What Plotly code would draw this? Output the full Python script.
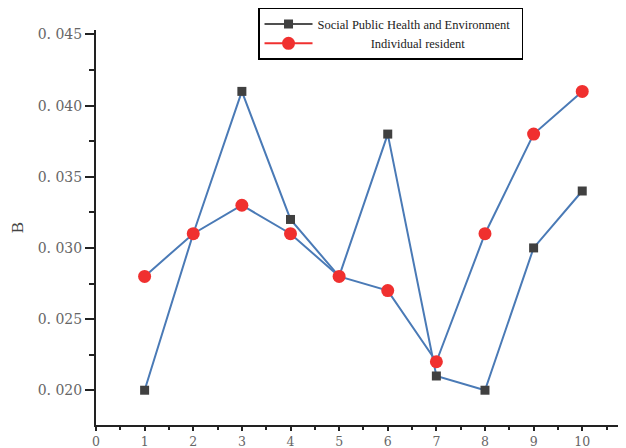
import plotly.graph_objects as go

x_vals = [1, 2, 3, 4, 5, 6, 7, 8, 9, 10]
social = [0.020, 0.031, 0.041, 0.032, 0.028, 0.038, 0.021, 0.020, 0.030, 0.034]
individual = [0.028, 0.031, 0.033, 0.031, 0.028, 0.027, 0.022, 0.031, 0.038, 0.041]
y_tickvals = [0.020, 0.025, 0.030, 0.035, 0.040, 0.045]
y_ticktext = ["0. 020", "0. 025", "0. 030", "0. 035", "0. 040", "0. 045"]
x_tickvals = [0, 1, 2, 3, 4, 5, 6, 7, 8, 9, 10]
series_names = ["Social Public Health and Environment" + "\u00a0" * 2,
                "\u00a0" * 17 + "Individual resident"]

line_blue = "#4a7ab6"
tick_font = dict(family="DejaVu Serif", size=14, color="#666666")

fig = go.Figure()
fig.add_trace(go.Scatter(x=x_vals, y=social, mode="lines+markers", showlegend=False,
                         line=dict(color=line_blue, width=2),
                         marker=dict(symbol="square", size=9, color="#404040")))
fig.add_trace(go.Scatter(x=x_vals, y=individual, mode="lines+markers", showlegend=False,
                         line=dict(color=line_blue, width=2),
                         marker=dict(symbol="circle", size=13, color="#f0302f")))
# legend entries
fig.add_trace(go.Scatter(x=[None], y=[None], mode="lines+markers", name=series_names[0],
                         line=dict(color="#505050", width=2),
                         marker=dict(symbol="square", size=9, color="#404040")))
fig.add_trace(go.Scatter(x=[None], y=[None], mode="lines+markers", name=series_names[1],
                         line=dict(color="#f0302f", width=2),
                         marker=dict(symbol="circle", size=13, color="#f0302f")))

# page body has an 8px margin, so the figure is drawn 8px smaller and offset
fig.update_layout(
    width=618, height=440,
    margin=dict(l=88, r=0, t=22, b=23, autoexpand=False),
    paper_bgcolor="white", plot_bgcolor="white",
    font=dict(family="Liberation Serif", color="#555555", size=15),
    showlegend=True,
    legend=dict(x=0.3057, y=1.0557, xanchor="left", yanchor="top",
                bordercolor="black", borderwidth=1.5, bgcolor="white",
                font=dict(family="Liberation Serif", size=12.5, color="#222222"),
                tracegroupgap=0, itemwidth=48),
    xaxis=dict(range=[0, 10.9], tickvals=x_tickvals, showgrid=False, zeroline=False,
               automargin=False,
               showline=True, linecolor="#222222", linewidth=2,
               ticks="outside", ticklen=4, tickwidth=1.5, tickcolor="#222222",
               minor=dict(dtick=0.5, tick0=0, ticks="outside", ticklen=3, tickwidth=1.5, tickcolor="#222222"),
               tickfont=dict(family="DejaVu Serif", size=12.5, color="#666666")),
    yaxis=dict(range=[0.017556, 0.045314], tickvals=y_tickvals, ticktext=y_ticktext,
               showgrid=False, zeroline=False, automargin=False,
               showline=True, linecolor="#222222", linewidth=2,
               ticks="outside", ticklen=9, tickwidth=1.5, tickcolor="#222222",
               minor=dict(dtick=0.0025, tick0=0.0, ticks="outside", ticklen=5, tickwidth=1.5, tickcolor="#222222"),
               tickfont=tick_font,
               title=dict(text="B", standoff=18, font=dict(family="Liberation Serif", size=17, color="#444444"))),
)

fig.write_html("out.html")
